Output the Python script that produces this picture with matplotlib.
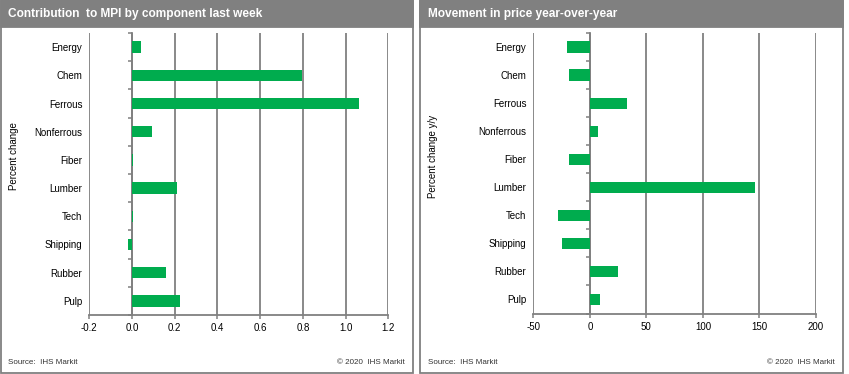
import matplotlib.pyplot as plt
from matplotlib.patches import Rectangle
import numpy as np

plt.rcParams['font.family'] = ['Liberation Sans', 'DejaVu Sans']

categories = ['Energy', 'Chem', 'Ferrous', 'Nonferrous', 'Fiber',
              'Lumber', 'Tech', 'Shipping', 'Rubber', 'Pulp']
contribution = [0.044, 0.798, 1.064, 0.095, 0.006, 0.212, 0.006, -0.017, 0.160, 0.226]
yoy_change = [-20, -18, 33, 7.5, -18, 146, -28, -25, 24.5, 9]

left_ticks = [-0.2, 0.0, 0.2, 0.4, 0.6, 0.8, 1.0, 1.2]
right_ticks = [-50, 0, 50, 100, 150, 200]

W, H = 849, 374
GREEN = '#00ac4e'
GRAY = '#808080'

fig = plt.figure(figsize=(W / 100, H / 100), dpi=100)


def px(x0, y0, w, h):
    # pixel box (top-left origin) -> figure fraction rect
    return [x0 / W, 1 - (y0 + h) / H, w / W, h / H]


def panel(x0, x1, title, ylabel, ylabel_x):
    r = Rectangle((x0 / W, 1 - 372.5 / H), (x1 - x0) / W, 372 / H,
                  transform=fig.transFigure, fill=False, ec=GRAY, lw=1.3)
    fig.add_artist(r)
    bar = Rectangle((x0 / W, 1 - 27 / H), (x1 - x0) / W, 27 / H,
                    transform=fig.transFigure, fc=GRAY, ec=GRAY, lw=1.3)
    fig.add_artist(bar)
    fig.text((x0 + 8) / W, 1 - 14 / H, title, color='white', fontsize=8.6,
             fontweight='bold', va='center', ha='left')
    fig.text(ylabel_x / W, 1 - 156 / H, ylabel, rotation=90, fontsize=7,
             va='center', ha='center')
    fig.text((x0 + 8) / W, 1 - 362 / H, 'Source:  IHS Markit', fontsize=5.8,
             va='center', ha='left', color='#333333')
    fig.text((x1 - 8) / W, 1 - 362 / H, '\u00a9 2020  IHS Markit', fontsize=5.8,
             va='center', ha='right', color='#333333')


def bars(ax, values, ticks, xlim, fmt):
    y = np.arange(len(categories))
    ax.barh(y, values, height=0.4, color=GREEN, zorder=3)
    ax.set_xlim(*xlim)
    ax.set_ylim(len(categories) - 0.5, -0.5)
    ax.set_xticks(ticks)
    ax.set_xticklabels([fmt(t) for t in ticks])
    ax.set_yticks(y)
    ax.set_yticklabels(categories)
    ax.set_yticks(np.arange(len(categories) + 1) - 0.5, minor=True)
    ax.grid(axis='x', color=GRAY, lw=1.3, zorder=1)
    for s in ['top', 'left']:
        ax.spines[s].set_visible(False)
    ax.spines['bottom'].set_color(GRAY)
    ax.spines['bottom'].set_linewidth(1.3)
    ax.spines['right'].set_position(('data', 0))
    ax.spines['right'].set_color(GRAY)
    ax.spines['right'].set_linewidth(1.3)
    ax.spines['right'].set_zorder(2)
    ax.tick_params(axis='y', which='major', left=False, right=False, length=0,
                   labelleft=True, labelright=False, labelsize=7, pad=5)
    ax.tick_params(axis='y', which='minor', left=False, right=True,
                   direction='in', length=3, width=1.1, color=GRAY)
    ax.tick_params(axis='x', which='major', direction='out', length=3,
                   width=1.1, color=GRAY, labelsize=7, pad=3)


panel(0.5, 412.5, 'Contribution  to MPI by component last week',
      'Percent change', 14)
panel(419.5, 843, 'Movement in price year-over-year',
      'Percent change y/y', 433)

ax1 = fig.add_axes(px(89.3, 33, 299, 282))
bars(ax1, contribution, left_ticks, (-0.2, 1.2), lambda t: f'{t:.1f}')

ax2 = fig.add_axes(px(533.3, 33, 282.7, 280.5))
bars(ax2, yoy_change, right_ticks, (-50, 200), lambda t: f'{t:d}')

fig.savefig('out.png', dpi=100)
